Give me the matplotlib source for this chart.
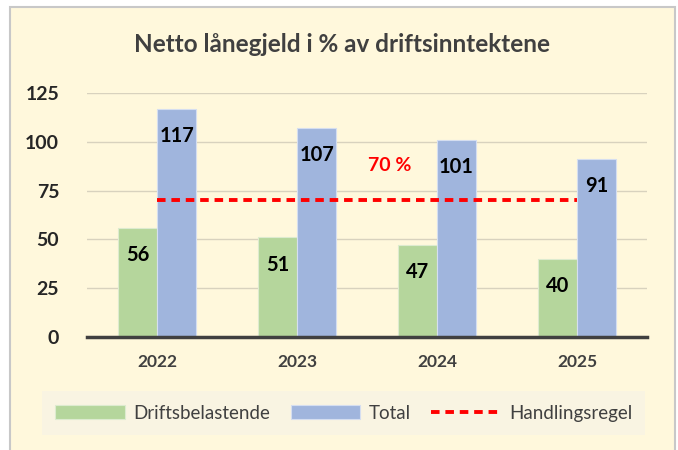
import numpy as np
import matplotlib.pyplot as plt
from matplotlib.patches import Rectangle

plt.rcParams['font.family'] = ['Lato', 'DejaVu Sans']

years = ["2022", "2023", "2024", "2025"]
drift = [56, 51, 47, 40]
total = [117, 107, 101, 91]
regel = 70
regel_label = "70 %"

green = "#B5D69C"
blue = "#A0B5DD"
cream = "#FFF8DC"

fig = plt.figure(figsize=(6.78, 4.5), dpi=100, facecolor="white")
fig.patches.append(Rectangle((10 / 678, -0.02), 665 / 678, 443 / 450 + 0.02,
                             transform=fig.transFigure, facecolor=cream,
                             edgecolor="#C8C8C8", lw=1.5, zorder=-10))

ax = fig.add_axes([87 / 678, 113 / 450, 560 / 678, 244 / 450])
ax.set_facecolor("none")

x = np.arange(len(years))
w = 0.28
b1 = ax.bar(x - w / 2, drift, w, color=green, edgecolor="#DDEBCF", lw=0.8, zorder=2,
            label="Driftsbelastende")
b2 = ax.bar(x + w / 2, total, w, color=blue, edgecolor="#D5DEF0", lw=0.8, zorder=2,
            label="Total")
ln, = ax.plot([x[0], x[-1]], [regel, regel], color="#FF0000", lw=2.8,
              dashes=(2.2, 1.5), zorder=3, label="Handlingsregel")

for bars, vals in ((b1, drift), (b2, total)):
    for r, v in zip(bars, vals):
        ax.annotate(str(v), (r.get_x() + r.get_width() / 2, v), xytext=(0, -19.5),
                    textcoords="offset points", ha="center", va="center",
                    fontsize=14.5, fontweight="bold", color="black", zorder=4)

ax.text(1.66, 88, regel_label, color="#FF0000", fontsize=14, fontweight="bold",
        ha="center", va="center")

ax.set_xlim(-0.5, 3.5)
ax.set_ylim(0, 125)
ax.set_yticks([0, 25, 50, 75, 100, 125])
ax.set_xticks(x)
ax.set_xticklabels(years)
ax.tick_params(axis="y", length=0, pad=20, labelsize=14, labelcolor="#262626")
ax.tick_params(axis="x", length=0, pad=12, labelsize=12.5, labelcolor="#404040")
for t in ax.get_xticklabels() + ax.get_yticklabels():
    t.set_fontweight("bold")
ax.grid(axis="y", color="#D8D2BE", lw=1, zorder=0)
for s in ("top", "right", "left"):
    ax.spines[s].set_visible(False)
ax.spines["bottom"].set_color("#404040")
ax.spines["bottom"].set_linewidth(2.5)
ax.spines["bottom"].set_zorder(5)

fig.text(0.505, 0.9, "Netto lånegjeld i % av driftsinntektene", ha="center",
         va="center", fontsize=17.5, fontweight="bold", color="#404040")

leg = fig.legend(handles=[b1, b2, ln], loc="center", bbox_to_anchor=(0.507, 0.082),
                 ncol=3, frameon=True, fontsize=13.5, handlelength=3.7,
                 handleheight=0.8, columnspacing=1.1, handletextpad=0.45,
                 borderpad=0.7, borderaxespad=0)
leg.get_frame().set_facecolor("#F8F4E4")
leg.get_frame().set_edgecolor("none")
leg.get_frame().set_boxstyle("square", pad=0)
for t in leg.get_texts():
    t.set_color("#404040")

fig.savefig("out.png", dpi=100, facecolor="white")
